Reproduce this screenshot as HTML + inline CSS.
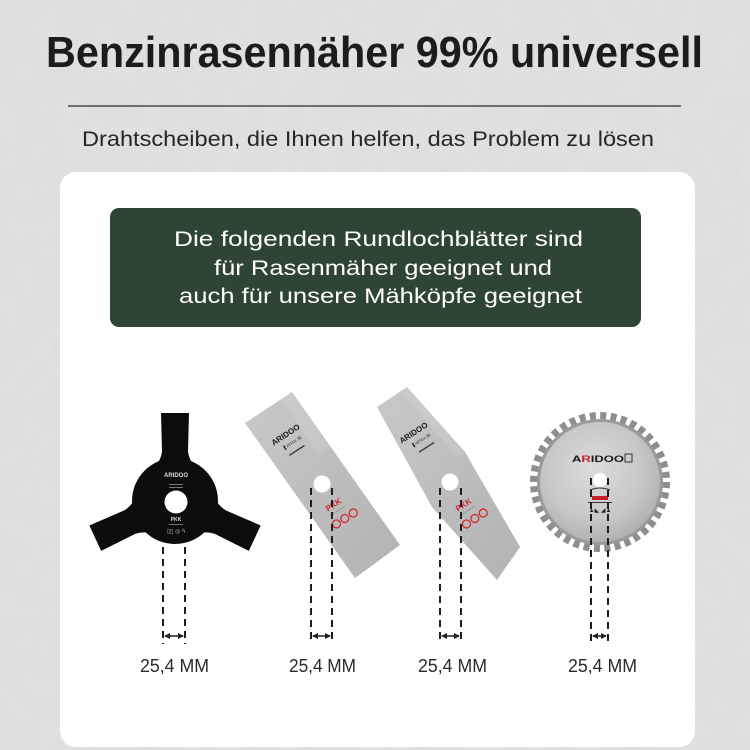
<!DOCTYPE html>
<html><head><meta charset="utf-8"><style>
html,body{margin:0;padding:0;background:#e2e2e2;}
svg{display:block;}
</style></head><body>
<svg width="750" height="750" viewBox="0 0 750 750" xmlns="http://www.w3.org/2000/svg">
<defs>
<filter id="noise" x="0" y="0" width="100%" height="100%">
<feTurbulence type="fractalNoise" baseFrequency="0.05" numOctaves="4" seed="3"/>
<feColorMatrix type="matrix" values="0 0 0 0 0.5  0 0 0 0 0.5  0 0 0 0 0.5  0 0 0 0.9 -0.25"/>
</filter>
<linearGradient id="steel" x1="0" y1="0" x2="1" y2="1">
<stop offset="0" stop-color="#c9c9c9"/><stop offset="0.5" stop-color="#bdbdbd"/><stop offset="1" stop-color="#b3b3b3"/>
</linearGradient>
<radialGradient id="disc" cx="0.45" cy="0.4" r="0.6">
<stop offset="0" stop-color="#dcdcdc"/><stop offset="0.7" stop-color="#c6c6c6"/><stop offset="1" stop-color="#b2b2b2"/>
</radialGradient>
<marker id="ah" markerWidth="6" markerHeight="6" refX="5" refY="3" orient="auto-start-reverse" markerUnits="userSpaceOnUse">
<path d="M0,0 L6,3 L0,6 Z" fill="#222"/>
</marker>
</defs>

<!-- background -->
<rect x="0" y="0" width="750" height="750" fill="#e1e1e1"/>
<rect x="0" y="0" width="750" height="750" filter="url(#noise)" opacity="0.18"/>

<!-- title -->
<text x="46" y="67" font-family="Liberation Sans, sans-serif" font-weight="bold" font-size="44" fill="#1c1c1c" textLength="657" lengthAdjust="spacingAndGlyphs">Benzinrasennäher 99% universell</text>
<rect x="68" y="105" width="613" height="2" fill="#6e6e6e"/>
<text x="82" y="146" font-family="Liberation Sans, sans-serif" font-size="21" fill="#262626" textLength="572" lengthAdjust="spacingAndGlyphs">Drahtscheiben, die Ihnen helfen, das Problem zu lösen</text>

<!-- card -->
<rect x="60" y="172" width="635" height="575" rx="16" ry="16" fill="#ffffff"/>

<!-- green box -->
<rect x="110" y="208" width="531" height="119" rx="9" ry="9" fill="#2e4535"/>
<g font-family="Liberation Sans, sans-serif" font-size="21.5" fill="#ffffff">
<text x="174" y="246" textLength="409" lengthAdjust="spacingAndGlyphs">Die folgenden Rundlochblätter sind</text>
<text x="214" y="275" textLength="338" lengthAdjust="spacingAndGlyphs">für Rasenmäher geeignet und</text>
<text x="179" y="303" textLength="403" lengthAdjust="spacingAndGlyphs">auch für unsere Mähköpfe geeignet</text>
</g>

<!-- blade 1: black three-blade -->
<g transform="translate(175,501)">
<circle cx="0" cy="0" r="43" fill="#0c0c0c"/>
<g fill="#0c0c0c">
<path d="M-22,-32 Q-14,-40 -13,-50 L-14,-88 L14,-88 L13,-50 Q14,-40 22,-32 Z"/>
<path transform="rotate(115)" d="M-22,-32 Q-14,-40 -13,-50 L-14,-88 L14,-88 L13,-50 Q14,-40 22,-32 Z"/>
<path transform="rotate(245)" d="M-22,-32 Q-14,-40 -13,-50 L-14,-88 L14,-88 L13,-50 Q14,-40 22,-32 Z"/>
</g>
<circle cx="1" cy="1" r="11.5" fill="#ffffff"/>
<text x="1" y="-24" font-family="Liberation Sans, sans-serif" font-weight="bold" font-size="6" fill="#ddd" text-anchor="middle">ARIDOO</text>
<rect x="-6" y="-17" width="14" height="1" fill="#777"/>
<rect x="-6" y="-14" width="14" height="1" fill="#777"/>
<text x="1" y="20" font-family="Liberation Sans, sans-serif" font-weight="bold" font-size="5" fill="#ddd" text-anchor="middle">PKK</text>
<rect x="-6" y="23" width="14" height="1" fill="#777"/>
<text x="1" y="32" font-family="Liberation Sans, sans-serif" font-size="6" fill="#bbb" text-anchor="middle">▯▯ ◎ ϟ</text>
</g>

<!-- blade 2: rectangular silver -->
<polygon points="245,423 292,392 400,545 355,578" fill="url(#steel)"/>
<polygon points="292,392 330,446 318,455 282,399" fill="#d6d6d6" opacity="0.3"/>
<circle cx="322" cy="484" r="8.5" fill="#ffffff"/>
<g transform="translate(287,437) rotate(-33)" font-family="Liberation Sans, sans-serif" fill="#1a1a1a">
<text x="0" y="0" font-weight="bold" font-size="8" text-anchor="middle">ARIDOO</text>
<text x="2" y="9" font-size="4" text-anchor="middle">▌25TDz 3E</text>
<rect x="-8" y="16" width="18" height="1.3" fill="#333"/>
</g>
<g transform="translate(335,507) rotate(-33)" font-family="Liberation Sans, sans-serif">
<text x="0" y="0" font-weight="bold" font-size="8" fill="#d3202a" text-anchor="middle">PKK</text>
<text x="0" y="6" font-size="3.5" fill="#555" text-anchor="middle">ꟷꟷ ꟷꟷꟷꟷ</text>
<circle cx="-8" cy="15" r="4" fill="none" stroke="#d3202a" stroke-width="1.2"/>
<circle cx="2" cy="15" r="4" fill="none" stroke="#d3202a" stroke-width="1.2"/>
<circle cx="12" cy="15" r="4" fill="none" stroke="#d3202a" stroke-width="1.2"/>
</g>

<!-- blade 3: two-tooth silver -->
<polygon points="377,407 407,387 465,452 520,547 497,580 432,507" fill="url(#steel)"/>
<polygon points="407,387 465,452 458,458 402,392" fill="#d6d6d6" opacity="0.3"/>
<circle cx="450" cy="482" r="8.5" fill="#ffffff"/>
<g transform="translate(415,435) rotate(-33)" font-family="Liberation Sans, sans-serif" fill="#1a1a1a">
<text x="0" y="0" font-weight="bold" font-size="8" text-anchor="middle">ARIDOO</text>
<text x="3" y="9" font-size="4" text-anchor="middle">▌40TDz 3E</text>
<rect x="-6" y="16" width="18" height="1.3" fill="#333"/>
</g>
<g transform="translate(465,507) rotate(-33)" font-family="Liberation Sans, sans-serif">
<text x="0" y="0" font-weight="bold" font-size="8" fill="#d3202a" text-anchor="middle">PKK</text>
<text x="0" y="6" font-size="3.5" fill="#555" text-anchor="middle">ꟷꟷ ꟷꟷꟷꟷ</text>
<circle cx="-8" cy="15" r="4" fill="none" stroke="#d3202a" stroke-width="1.2"/>
<circle cx="2" cy="15" r="4" fill="none" stroke="#d3202a" stroke-width="1.2"/>
<circle cx="12" cy="15" r="4" fill="none" stroke="#d3202a" stroke-width="1.2"/>
</g>

<!-- blade 4: saw -->
<circle cx="600" cy="482" r="66" fill="none" stroke="#8e8e8e" stroke-width="8" stroke-dasharray="6 4.37"/>
<circle cx="600" cy="482" r="63" fill="#9a9a9a"/>
<circle cx="600" cy="482" r="60" fill="url(#disc)"/>
<circle cx="600" cy="480" r="7" fill="#ffffff"/>
<text x="572" y="462" font-family="Liberation Sans, sans-serif" font-weight="bold" font-size="9.5" fill="#1a1a1a" textLength="52" lengthAdjust="spacingAndGlyphs">A<tspan fill="#c8202a">R</tspan>IDOO</text>
<rect x="625" y="454" width="7" height="8" fill="none" stroke="#333" stroke-width="1"/>
<path d="M590,490 Q600,486 610,490" fill="none" stroke="#333" stroke-width="1"/>
<rect x="592" y="496" width="16" height="4" fill="#c8202a"/>
<rect x="588" y="502" width="24" height="1" fill="#333"/>
<text x="600" y="512" font-family="Liberation Sans, sans-serif" font-size="6" fill="#222" text-anchor="middle">▲◣ ◢▲</text>

<!-- dimension lines -->
<g stroke="#1e1e1e" stroke-width="2" stroke-dasharray="7 5" fill="none">
<line x1="163" y1="547" x2="163" y2="644"/>
<line x1="185" y1="547" x2="185" y2="644"/>
<line x1="311" y1="488" x2="311" y2="644"/>
<line x1="332" y1="488" x2="332" y2="644"/>
<line x1="440" y1="488" x2="440" y2="644"/>
<line x1="461" y1="488" x2="461" y2="644"/>
<line x1="591" y1="478" x2="591" y2="644"/>
<line x1="608" y1="478" x2="608" y2="644"/>
</g>
<g stroke="#1e1e1e" stroke-width="1.5">
<line x1="165" y1="636" x2="183" y2="636" marker-start="url(#ah)" marker-end="url(#ah)"/>
<line x1="313" y1="636" x2="330" y2="636" marker-start="url(#ah)" marker-end="url(#ah)"/>
<line x1="442" y1="636" x2="459" y2="636" marker-start="url(#ah)" marker-end="url(#ah)"/>
<line x1="593" y1="636" x2="606" y2="636" marker-start="url(#ah)" marker-end="url(#ah)"/>
</g>

<!-- labels -->
<g font-family="Liberation Sans, sans-serif" font-size="18" fill="#2a2a2a">
<text x="140" y="672" textLength="69" lengthAdjust="spacingAndGlyphs">25,4 MM</text>
<text x="289" y="672" textLength="67" lengthAdjust="spacingAndGlyphs">25,4 MM</text>
<text x="418" y="672" textLength="69" lengthAdjust="spacingAndGlyphs">25,4 MM</text>
<text x="568" y="672" textLength="69" lengthAdjust="spacingAndGlyphs">25,4 MM</text>
</g>
</svg>
</body></html>
